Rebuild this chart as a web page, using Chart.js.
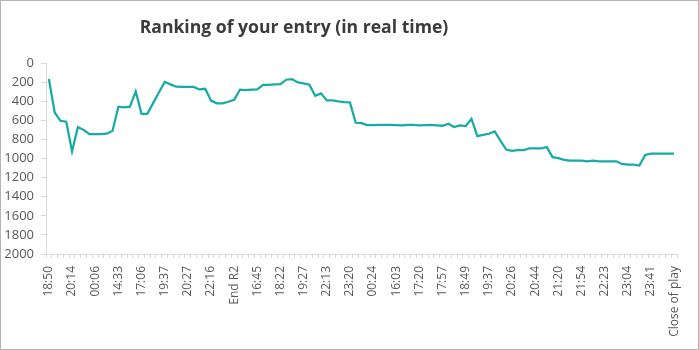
<!DOCTYPE html>
<html>
<head>
<meta charset="utf-8">
<script src="https://cdn.jsdelivr.net/npm/chart.js@4/dist/chart.umd.min.js"></script>
<style>
  html, body { margin: 0; padding: 0; background: #fff; }
  #frame {
    position: relative;
    width: 699px; height: 350px;
    box-sizing: border-box;
    border: 1px solid #b4b4b4;
  }
  #title {
    position: absolute;
    left: 0; width: 586px; top: 13px;
    text-align: center;
    font: bold 17.6px "Open Sans", sans-serif;
    color: #3b3b3b;
  }
  #chartBox { position: absolute; left: 0; top: 0; width: 697px; height: 348px; }
</style>
</head>
<body>
<div id="frame">
  <div id="chartBox"><canvas id="rankChart" width="697" height="348"></canvas></div>
  <div id="title">Ranking of your entry (in real time)</div>
</div>
<script>
// labels shown under the axis, one every 4th update
var tickLabels = ['18:50', '20:14', '00:06', '14:33', '17:06', '19:37', '20:27', '22:16',
  'End R2', '16:45', '18:22', '19:27', '22:13', '23:20', '00:24', '16:03', '17:20',
  '17:57', '18:49', '19:37', '20:26', '20:44', '21:20', '21:54', '22:23', '23:04',
  '23:41', 'Close of play'];
var labelEvery = 4;

// rank at each update
var ranking = [
  168, 518, 605, 615, 927, 672, 700, 745, 745, 745,
  740, 710, 458, 465, 458, 298, 532, 532, 420, 308,
  198, 224, 248, 250, 250, 250, 277, 270, 393, 422,
  422, 406, 386, 280, 283, 280, 277, 228, 228, 225,
  222, 175, 168, 203, 214, 228, 343, 318, 392, 392,
  402, 409, 413, 626, 629, 650, 650, 648, 648, 647,
  650, 652, 648, 647, 652, 650, 647, 652, 657, 636,
  671, 654, 660, 584, 766, 752, 741, 717, 812, 906,
  920, 913, 913, 895, 895, 895, 881, 986, 997, 1015,
  1022, 1022, 1022, 1029, 1022, 1029, 1029, 1029, 1029, 1057,
  1064, 1064, 1074, 962, 948, 948, 948, 948, 948
];

var categories = ranking.map(function (v, i) {
  return i % labelEvery === 0 ? tickLabels[i / labelEvery] : '';
});

var axisGrey = '#d9d9d9';
var textGrey = '#595959';

var ctx = document.getElementById('rankChart').getContext('2d');
var rankChart = new Chart(ctx, {
  type: 'line',
  data: {
    labels: categories,
    datasets: [{
      data: ranking,
      borderColor: '#17aba6',
      borderWidth: 2.25,
      pointRadius: 0,
      tension: 0,
      fill: false
    }]
  },
  options: {
    responsive: false,
    animation: false,
    layout: { padding: { top: 62, right: 21, left: 0, bottom: 0 } },
    plugins: { legend: { display: false }, tooltip: { enabled: false } },
    scales: {
      x: {
        type: 'category',
        offset: true,
        afterFit: function (scale) { scale.height = 95; },
        grid: {
          offset: true,
          drawOnChartArea: false,
          drawTicks: true,
          tickLength: 4,
          color: axisGrey
        },
        border: { color: axisGrey, width: 1 },
        ticks: {
          autoSkip: false,
          minRotation: 90,
          maxRotation: 90,
          padding: 8,
          color: textGrey,
          font: { family: 'Open Sans', size: 12 },
          callback: function (val, i) { return categories[i]; }
        }
      },
      y: {
        reverse: true,
        min: 0,
        max: 2000,
        afterFit: function (scale) { scale.width = 45; },
        grid: {
          drawOnChartArea: false,
          drawTicks: true,
          tickLength: 5,
          color: axisGrey
        },
        border: { color: axisGrey, width: 1 },
        ticks: {
          stepSize: 200,
          padding: 7,
          color: textGrey,
          font: { family: 'Open Sans', size: 13 },
          callback: function (val) { return String(val); }
        }
      }
    }
  }
});
</script>
</body>
</html>
